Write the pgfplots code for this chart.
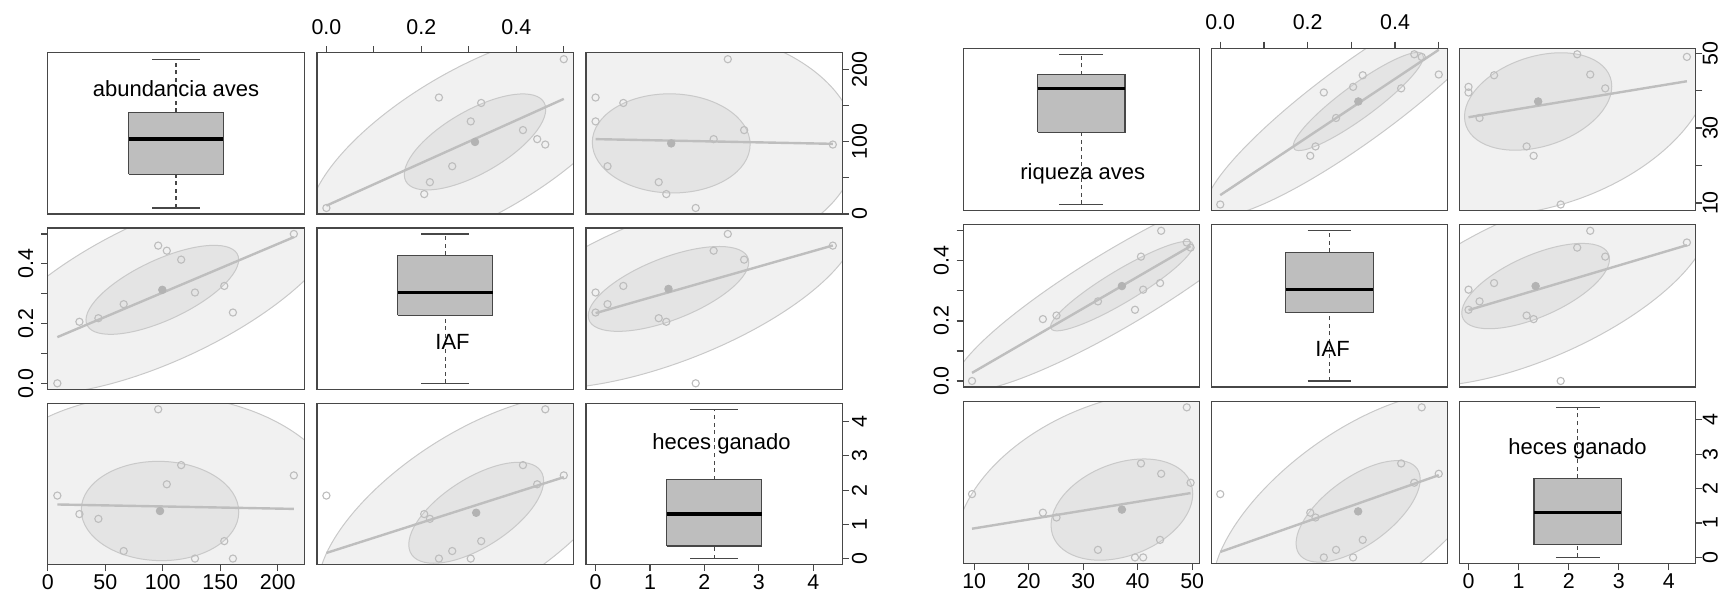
\documentclass[border=0pt]{standalone}
\usepackage{pgfplots}
\pgfplotsset{compat=1.18}
\usepackage{pgfplotstable}
\usepackage{fontspec}
\setmainfont{Liberation Sans}
\setsansfont{Liberation Sans}
\definecolor{axcol}{HTML}{474747}
\definecolor{outfill}{HTML}{F1F1F1}
\definecolor{infill}{HTML}{E4E4E4}
\definecolor{elledge}{HTML}{C9C9C9}
\definecolor{ptcol}{HTML}{BDBDBD}
\definecolor{regcol}{HTML}{BEBEBE}
\definecolor{cencol}{HTML}{B3B3B3}
\definecolor{boxfill}{HTML}{BEBEBE}

\pgfplotstableread{
A R I H
8.3 9.6 0.000 1.84
27.5 22.6 0.206 1.30
44.0 25.1 0.218 1.16
66.0 32.7 0.265 0.22
96.0 49.0 0.461 4.36
103.5 49.7 0.444 2.17
116.0 40.6 0.414 2.73
128.0 41.0 0.304 0.00
153.5 44.1 0.326 0.51
161.0 39.5 0.237 0.00
214.0 44.3 0.500 2.43
}\sites

% data ellipse: centre (#1,#2), axis vectors (#3,#4) and (0,#5) in data units, fill #6
\newcommand{\Ell}[6]{\pgfplotsextra{\begin{pgfscope}\pgfsetlinewidth{0.5pt}\pgfsetstrokecolor{elledge}\pgfsetfillcolor{#6}\pgfpathellipse{\pgfplotspointaxisxy{#1}{#2}}{\pgfplotspointaxisdirectionxy{#3}{#4}}{\pgfplotspointaxisdirectionxy{0}{#5}}\pgfusepath{fill,stroke}\end{pgfscope}}}

\pgfplotsset{
  panel/.style={scale only axis, axis on top, clip=true,
    axis line style={draw=axcol, line width=0.65pt},
    tick style={draw=axcol, line width=0.6pt},
    tick align=outside, major tick length=3.3pt,
    xtick=\empty, ytick=\empty,
    ticklabel style={font=\fontsize{10.7}{12}\selectfont, text=black}},
  Lp/.style={panel, width=128.2pt, height=80.65pt},
  Rp/.style={panel, width=118pt, height=81.1pt},
  bottomlab/.style={xtick pos=left, xticklabel pos=left,
    xticklabel style={anchor=base, inner sep=0pt, yshift=-9.3pt}},
  toplab/.style={xtick pos=right, xticklabel pos=right,
    xticklabel style={anchor=base, inner sep=0pt, yshift=6pt}},
  leftlab/.style={ytick pos=left, yticklabel pos=left,
    yticklabel style={inner sep=0pt, xshift=-4pt, rotate=90, anchor=base}},
  rightlab/.style={ytick pos=right, yticklabel pos=right,
    yticklabel style={inner sep=0pt, xshift=8.9pt, rotate=90, anchor=base}},
  rightlabR/.style={ytick pos=right, yticklabel pos=right,
    yticklabel style={inner sep=0pt, xshift=7.7pt, rotate=90, anchor=base}},
  Irange/.style={xmin=-0.02, xmax=0.52},
  IrangeY/.style={ymin=-0.02, ymax=0.52},
  Hx/.style={xmin=-0.176, xmax=4.536},
  Hy/.style={ymin=-0.176, ymax=4.536},
  pts/.style={only marks, mark=o, draw=ptcol, mark size=1.8pt, line width=0.55pt},
  cen/.style={only marks, mark=*, draw=cencol, fill=cencol, mark size=1.9pt},
  reg/.style={draw=regcol, line width=1.2pt},
  wh/.style={draw=axcol, line width=0.6pt, dash pattern=on 2pt off 1.8pt},
  cap/.style={draw=axcol, line width=0.6pt},
  bx/.style={draw=axcol, fill=boxfill, line width=0.6pt},
  med/.style={draw=black, line width=1.8pt},
}
\newcommand{\lab}{\fontsize{11}{13}\selectfont}

\begin{document}
\begin{tikzpicture}
\useasboundingbox (0pt,0pt) rectangle (860pt,296.5pt);

%%%%%%%%%%%%%%%% LEFT MATRIX %%%%%%%%%%%%%%%%
% row 1
\begin{axis}[Lp, at={(23.9pt,189.5pt)}, xmin=0, xmax=1, ymin=0, ymax=223]
\addplot[bx] coordinates {(0.315,55) (0.685,55) (0.685,140.75) (0.315,140.75) (0.315,55)};
\addplot[med] coordinates {(0.315,103.5) (0.685,103.5)};
\addplot[wh] coordinates {(0.5,8.3) (0.5,55)};
\addplot[wh] coordinates {(0.5,140.75) (0.5,214)};
\addplot[cap] coordinates {(0.407,8.3) (0.593,8.3)};
\addplot[cap] coordinates {(0.407,214) (0.593,214)};
\node[font=\lab, inner sep=0pt] at (axis cs:0.5,173.9) {abundancia aves};
\end{axis}

\begin{axis}[Lp, at={(158.45pt,189.5pt)}, Irange, ymin=0, ymax=223, toplab,
  xtick={0,0.1,0.2,0.3,0.4,0.5}, xticklabels={0.0,{},0.2,{},0.4,{}}]
\Ell{0.313}{99.6}{0.350}{105.7}{114.6}{outfill}
\Ell{0.313}{99.6}{0.149}{45.0}{48.8}{infill}
\addplot[reg] coordinates {(0,11.5) (0.5,159.1)};
\addplot[pts] table[x=I, y=A] {\sites};
\addplot[cen] coordinates {(0.313,99.6)};
\end{axis}

\begin{axis}[Lp, at={(293.0pt,189.5pt)}, Hx, ymin=0, ymax=223, rightlab,
  ytick={0,50,100,150,200}, yticklabels={0,{},100,{},200}]
\Ell{1.39}{97.6}{3.406}{-3.22}{160.9}{outfill}
\Ell{1.39}{97.6}{1.45}{-1.37}{68.5}{infill}
\addplot[reg] coordinates {(0,103.5) (4.36,97.0)};
\addplot[pts] table[x=H, y=A] {\sites};
\addplot[cen] coordinates {(1.39,97.6)};
\end{axis}

% row 2
\begin{axis}[Lp, at={(23.9pt,101.85pt)}, xmin=0, xmax=223, IrangeY, leftlab,
  ytick={0,0.1,0.2,0.3,0.4,0.5}, yticklabels={0.0,{},0.2,{},0.4,{}}]
\Ell{99.6}{0.313}{156.0}{0.2373}{0.2572}{outfill}
\Ell{99.6}{0.313}{66.4}{0.101}{0.1095}{infill}
\addplot[reg] coordinates {(8.3,0.1546) (214,0.4894)};
\addplot[pts] table[x=A, y=I] {\sites};
\addplot[cen] coordinates {(99.6,0.313)};
\end{axis}

\begin{axis}[Lp, at={(158.45pt,101.85pt)}, xmin=0, xmax=1, IrangeY]
\addplot[bx] coordinates {(0.315,0.2275) (0.685,0.2275) (0.685,0.429) (0.315,0.429) (0.315,0.2275)};
\addplot[med] coordinates {(0.315,0.304) (0.685,0.304)};
\addplot[wh] coordinates {(0.5,0) (0.5,0.2275)};
\addplot[wh] coordinates {(0.5,0.429) (0.5,0.5)};
\addplot[cap] coordinates {(0.407,0) (0.593,0)};
\addplot[cap] coordinates {(0.407,0.5) (0.593,0.5)};
\node[font=\lab, inner sep=0pt] at (axis cs:0.529,0.138) {IAF};
\end{axis}

\begin{axis}[Lp, at={(293.0pt,101.85pt)}, Hx, IrangeY]
\Ell{1.34}{0.316}{3.465}{0.2101}{0.2591}{outfill}
\Ell{1.34}{0.316}{1.475}{0.0895}{0.1103}{infill}
\addplot[reg] coordinates {(0,0.235) (4.36,0.4615)};
\addplot[pts] table[x=H, y=I] {\sites};
\addplot[cen] coordinates {(1.34,0.316)};
\end{axis}

% row 3
\begin{axis}[Lp, at={(23.9pt,14.2pt)}, xmin=0, xmax=223, Hy, bottomlab,
  xtick={0,50,100,150,200}, xticklabels={0,50,100,150,200}]
\Ell{97.6}{1.39}{160.9}{-0.068}{3.406}{outfill}
\Ell{97.6}{1.39}{68.5}{-0.029}{1.45}{infill}
\addplot[reg] coordinates {(8.3,1.58) (214,1.451)};
\addplot[pts] table[x=A, y=H] {\sites};
\addplot[cen] coordinates {(97.6,1.39)};
\end{axis}

\begin{axis}[Lp, at={(158.45pt,14.2pt)}, Irange, Hy]
\Ell{0.3155}{1.338}{0.3336}{2.183}{2.691}{outfill}
\Ell{0.3155}{1.338}{0.142}{0.929}{1.1455}{infill}
\addplot[reg] coordinates {(0,0.164) (0.5,2.378)};
\addplot[pts] table[x=I, y=H] {\sites};
\addplot[cen] coordinates {(0.3155,1.338)};
\end{axis}

\begin{axis}[Lp, at={(293.0pt,14.2pt)}, Hx, Hy, bottomlab, rightlab,
  xtick={0,1,2,3,4}, xticklabels={0,1,2,3,4}, ytick={0,1,2,3,4}, yticklabels={0,1,2,3,4}]
\addplot[bx] coordinates {(1.308,0.365) (3.052,0.365) (3.052,2.30) (1.308,2.30) (1.308,0.365)};
\addplot[med] coordinates {(1.308,1.30) (3.052,1.30)};
\addplot[wh] coordinates {(2.18,0) (2.18,0.365)};
\addplot[wh] coordinates {(2.18,2.30) (2.18,4.36)};
\addplot[cap] coordinates {(1.742,0) (2.618,0)};
\addplot[cap] coordinates {(1.742,4.36) (2.618,4.36)};
\node[font=\lab, inner sep=0pt] at (axis cs:2.316,3.364) {heces ganado};
\end{axis}

%%%%%%%%%%%%%%%% RIGHT MATRIX %%%%%%%%%%%%%%%%
% row 1
\begin{axis}[Rp, at={(481.65pt,191.25pt)}, xmin=0, xmax=1, ymin=8.0, ymax=51.3]
\addplot[bx] coordinates {(0.315,28.9) (0.685,28.9) (0.685,44.2) (0.315,44.2) (0.315,28.9)};
\addplot[med] coordinates {(0.315,40.6) (0.685,40.6)};
\addplot[wh] coordinates {(0.5,9.6) (0.5,28.9)};
\addplot[wh] coordinates {(0.5,44.2) (0.5,49.7)};
\addplot[cap] coordinates {(0.407,9.6) (0.593,9.6)};
\addplot[cap] coordinates {(0.407,49.7) (0.593,49.7)};
\node[font=\lab, inner sep=0pt] at (axis cs:0.506,17.9) {riqueza aves};
\end{axis}

\begin{axis}[Rp, at={(605.75pt,191.25pt)}, Irange, ymin=8.0, ymax=51.3, toplab,
  xtick={0,0.1,0.2,0.3,0.4,0.5}, xticklabels={0.0,{},0.2,{},0.4,{}}]
\Ell{0.316}{37.1}{0.350}{28.0}{12.76}{outfill}
\Ell{0.316}{37.1}{0.149}{11.92}{5.43}{infill}
\addplot[reg] coordinates {(0,12.1) (0.5,50.9)};
\addplot[pts] table[x=I, y=R] {\sites};
\addplot[cen] coordinates {(0.316,37.1)};
\end{axis}

\begin{axis}[Rp, at={(729.85pt,191.25pt)}, Hx, ymin=8.0, ymax=51.3, rightlabR,
  ytick={10,20,30,40,50}, yticklabels={10,{},30,{},50}]
\Ell{1.39}{37.1}{3.453}{9.467}{29.03}{outfill}
\Ell{1.39}{37.1}{1.47}{4.03}{12.36}{infill}
\addplot[reg] coordinates {(0,32.9) (4.36,42.5)};
\addplot[pts] table[x=H, y=R] {\sites};
\addplot[cen] coordinates {(1.39,37.1)};
\end{axis}

% row 2
\begin{axis}[Rp, at={(481.65pt,103.0pt)}, xmin=8.0, xmax=51.3, IrangeY, leftlab,
  ytick={0,0.1,0.2,0.3,0.4,0.5}, yticklabels={0.0,{},0.2,{},0.4,{}}]
\Ell{37.1}{0.316}{30.77}{0.3185}{0.1451}{outfill}
\Ell{37.1}{0.316}{13.1}{0.1356}{0.0618}{infill}
\addplot[reg] coordinates {(9.6,0.027) (49.7,0.449)};
\addplot[pts] table[x=R, y=I] {\sites};
\addplot[cen] coordinates {(37.1,0.316)};
\end{axis}

\begin{axis}[Rp, at={(605.75pt,103.0pt)}, xmin=0, xmax=1, IrangeY]
\addplot[bx] coordinates {(0.315,0.2275) (0.685,0.2275) (0.685,0.429) (0.315,0.429) (0.315,0.2275)};
\addplot[med] coordinates {(0.315,0.304) (0.685,0.304)};
\addplot[wh] coordinates {(0.5,0) (0.5,0.2275)};
\addplot[wh] coordinates {(0.5,0.429) (0.5,0.5)};
\addplot[cap] coordinates {(0.407,0) (0.593,0)};
\addplot[cap] coordinates {(0.407,0.5) (0.593,0.5)};
\node[font=\lab, inner sep=0pt] at (axis cs:0.513,0.108) {IAF};
\end{axis}

\begin{axis}[Rp, at={(729.85pt,103.0pt)}, Hx, IrangeY]
\Ell{1.34}{0.316}{3.465}{0.2101}{0.2591}{outfill}
\Ell{1.34}{0.316}{1.475}{0.0895}{0.1103}{infill}
\addplot[reg] coordinates {(0,0.236) (4.36,0.452)};
\addplot[pts] table[x=H, y=I] {\sites};
\addplot[cen] coordinates {(1.34,0.316)};
\end{axis}

% row 3
\begin{axis}[Rp, at={(481.65pt,14.75pt)}, xmin=8.0, xmax=51.3, Hy, bottomlab,
  xtick={10,20,30,40,50}, xticklabels={10,20,30,40,50}]
\Ell{37.1}{1.39}{30.54}{1.071}{3.283}{outfill}
\Ell{37.1}{1.39}{13.0}{0.456}{1.3975}{infill}
\addplot[reg] coordinates {(9.6,0.834) (49.7,1.869)};
\addplot[pts] table[x=R, y=H] {\sites};
\addplot[cen] coordinates {(37.1,1.39)};
\end{axis}

\begin{axis}[Rp, at={(605.75pt,14.75pt)}, Irange, Hy]
\Ell{0.3155}{1.338}{0.3336}{2.183}{2.691}{outfill}
\Ell{0.3155}{1.338}{0.142}{0.929}{1.1455}{infill}
\addplot[reg] coordinates {(0,0.16) (0.5,2.39)};
\addplot[pts] table[x=I, y=H] {\sites};
\addplot[cen] coordinates {(0.3155,1.338)};
\end{axis}

\begin{axis}[Rp, at={(729.85pt,14.75pt)}, Hx, Hy, bottomlab, rightlabR,
  xtick={0,1,2,3,4}, xticklabels={0,1,2,3,4}, ytick={0,1,2,3,4}, yticklabels={0,1,2,3,4}]
\addplot[bx] coordinates {(1.308,0.365) (3.052,0.365) (3.052,2.30) (1.308,2.30) (1.308,0.365)};
\addplot[med] coordinates {(1.308,1.30) (3.052,1.30)};
\addplot[wh] coordinates {(2.18,0) (2.18,0.365)};
\addplot[wh] coordinates {(2.18,2.30) (2.18,4.36)};
\addplot[cap] coordinates {(1.742,0) (2.618,0)};
\addplot[cap] coordinates {(1.742,4.36) (2.618,4.36)};
\node[font=\lab, inner sep=0pt] at (axis cs:2.176,3.159) {heces ganado};
\end{axis}

\end{tikzpicture}
\end{document}
